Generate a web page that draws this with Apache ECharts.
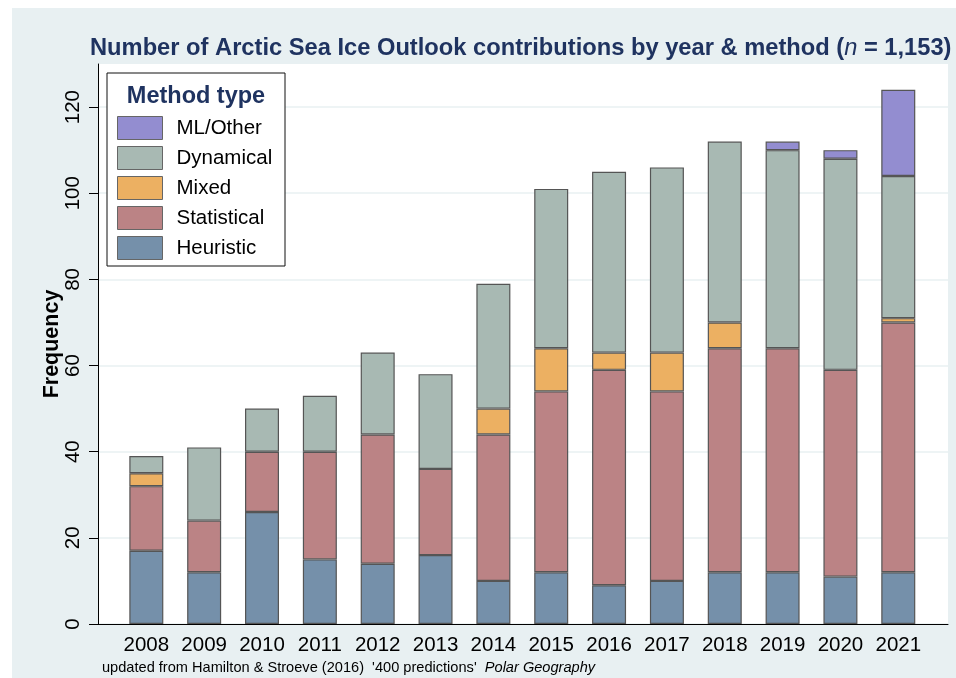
<!DOCTYPE html>
<html>
<head>
<meta charset="utf-8">
<script src="https://cdn.jsdelivr.net/npm/echarts@6/dist/echarts.min.js"></script>
<style>
html,body{margin:0;padding:0;background:#fff;}
#chart{width:956px;height:678px;}
</style>
</head>
<body>
<div id="chart"></div>
<script>
const years = ['2008','2009','2010','2011','2012','2013','2014','2015','2016','2017','2018','2019','2020','2021'];
const heuristic   = [17, 12, 26, 15, 14, 16, 10, 12,  9, 10, 12, 12, 11, 12];
const statistical = [15, 12, 14, 25, 30, 20, 34, 42, 50, 44, 52, 52, 48, 58];
const mixed       = [ 3,  0,  0,  0,  0,  0,  6, 10,  4,  9,  6,  0,  0,  1];
const dynamical   = [ 4, 17, 10, 13, 19, 22, 29, 37, 42, 43, 42, 46, 49, 33];
const mlOther     = [ 0,  0,  0,  0,  0,  0,  0,  0,  0,  0,  0,  2,  2, 20];
const yTicks = [0, 20, 40, 60, 80, 100, 120];

const colors = {
  'Heuristic': '#7590aa',
  'Statistical': '#bb8385',
  'Mixed': '#ecb062',
  'Dynamical': '#a8b9b3',
  'ML/Other': '#938dd0'
};
const seriesDefs = [
  ['Heuristic', heuristic],
  ['Statistical', statistical],
  ['Mixed', mixed],
  ['Dynamical', dynamical],
  ['ML/Other', mlOther]
];

const chart = echarts.init(document.getElementById('chart'), null, {renderer: 'canvas'});
const FONT = 'Liberation Sans, Arial, sans-serif';

const option = {
  animation: false,
  textStyle: {fontFamily: FONT},
  title: {
    left: 85, top: 31,
    text: '{a|Number of Arctic Sea Ice Outlook contributions by year & method (}{i|n}{a| = 1,153)}',
    textStyle: {
      rich: {
        a: {fontFamily: FONT, fontSize: 23.7, fontWeight: 'bold', color: '#1f3360'},
        i: {fontFamily: FONT, fontSize: 23.7, fontWeight: 'normal', fontStyle: 'italic', color: '#1f3360'}
      }
    }
  },
  grid: [
    {left: 117.4, right: 28.8, top: 64, bottom: 54, containLabel: false},
    {left: 98, right: 8, top: 64, bottom: 54, show: true, backgroundColor: '#ffffff', borderWidth: 0, z: -1}
  ],
  xAxis: [
    {
      type: 'category', gridIndex: 0, data: years,
      axisLine: {show: false}, axisTick: {show: false},
      axisLabel: {interval: 0, fontSize: 20.5, color: '#000', margin: 11, fontFamily: FONT, hideOverlap: false}
    },
    {
      type: 'value', gridIndex: 1, min: 0, max: 1,
      axisLine: {show: true, onZero: false, lineStyle: {color: '#000', width: 1}},
      axisTick: {show: false}, axisLabel: {show: false}, splitLine: {show: false}
    }
  ],
  yAxis: [
    {type: 'value', gridIndex: 0, min: 0, max: 130, show: false, splitLine: {show: false}},
    {
      type: 'value', gridIndex: 1, min: 0, max: 130, interval: 20,
      name: 'Frequency', nameLocation: 'middle', nameGap: 35, nameMoveOverlap: false,
      nameTextStyle: {fontSize: 21.5, fontWeight: 'bold', color: '#000', fontFamily: FONT},
      axisLine: {show: true, lineStyle: {color: '#000', width: 1}},
      axisTick: {show: true, length: 9, lineStyle: {color: '#000'}, customValues: yTicks},
      axisLabel: {rotate: 90, fontSize: 20.5, color: '#000', margin: 14, customValues: yTicks, fontFamily: FONT},
      splitLine: {show: true, lineStyle: {color: '#e8f0f2', width: 1.5}}
    }
  ],
  legend: {
    orient: 'vertical', left: 117, top: 116, padding: 0,
    itemWidth: 45, itemHeight: 23, itemGap: 6,
    icon: 'rect',
    data: ['ML/Other', 'Dynamical', 'Mixed', 'Statistical', 'Heuristic'],
    textStyle: {fontSize: 20.5, color: '#000', padding: [0, 0, 0, 9], fontFamily: FONT, lineHeight: 23},
    itemStyle: {borderColor: '#666', borderWidth: 1},
    z: 10
  },
  series: seriesDefs.map(([name, vals]) => ({
    name: name, type: 'bar', stack: 'total', xAxisIndex: 0, yAxisIndex: 0,
    barWidth: 34,
    data: vals.map(v => v === 0 ? '-' : v),
    itemStyle: {color: colors[name], borderColor: '#555', borderWidth: 1.2}
  })),
  graphic: [
    {type: 'rect', shape: {x: 12, y: 8, width: 944, height: 670}, style: {fill: '#e8f0f2'}, z: -100, silent: true},
    {type: 'rect', shape: {x: 107, y: 73, width: 178, height: 193}, style: {fill: '#fff', stroke: '#111', lineWidth: 1}, z: 8, silent: true},
    {type: 'text', x: 196, y: 97, z: 9, silent: true,
      style: {text: 'Method type', fontSize: 23.5, fontWeight: 'bold', fill: '#1f3360', fontFamily: FONT, textAlign: 'center', textVerticalAlign: 'middle'}},
    {type: 'text', x: 102, y: 668, z: 9, silent: true,
      style: {
        text: "{a|updated from Hamilton & Stroeve (2016)  '400 predictions'  }{i|Polar Geography}",
        textVerticalAlign: 'middle',
        rich: {
          a: {fontSize: 14.6, fill: '#000', fontFamily: FONT},
          i: {fontSize: 14.6, fill: '#000', fontStyle: 'italic', fontFamily: FONT}
        }
      }}
  ]
};
chart.setOption(option);
</script>
</body>
</html>
